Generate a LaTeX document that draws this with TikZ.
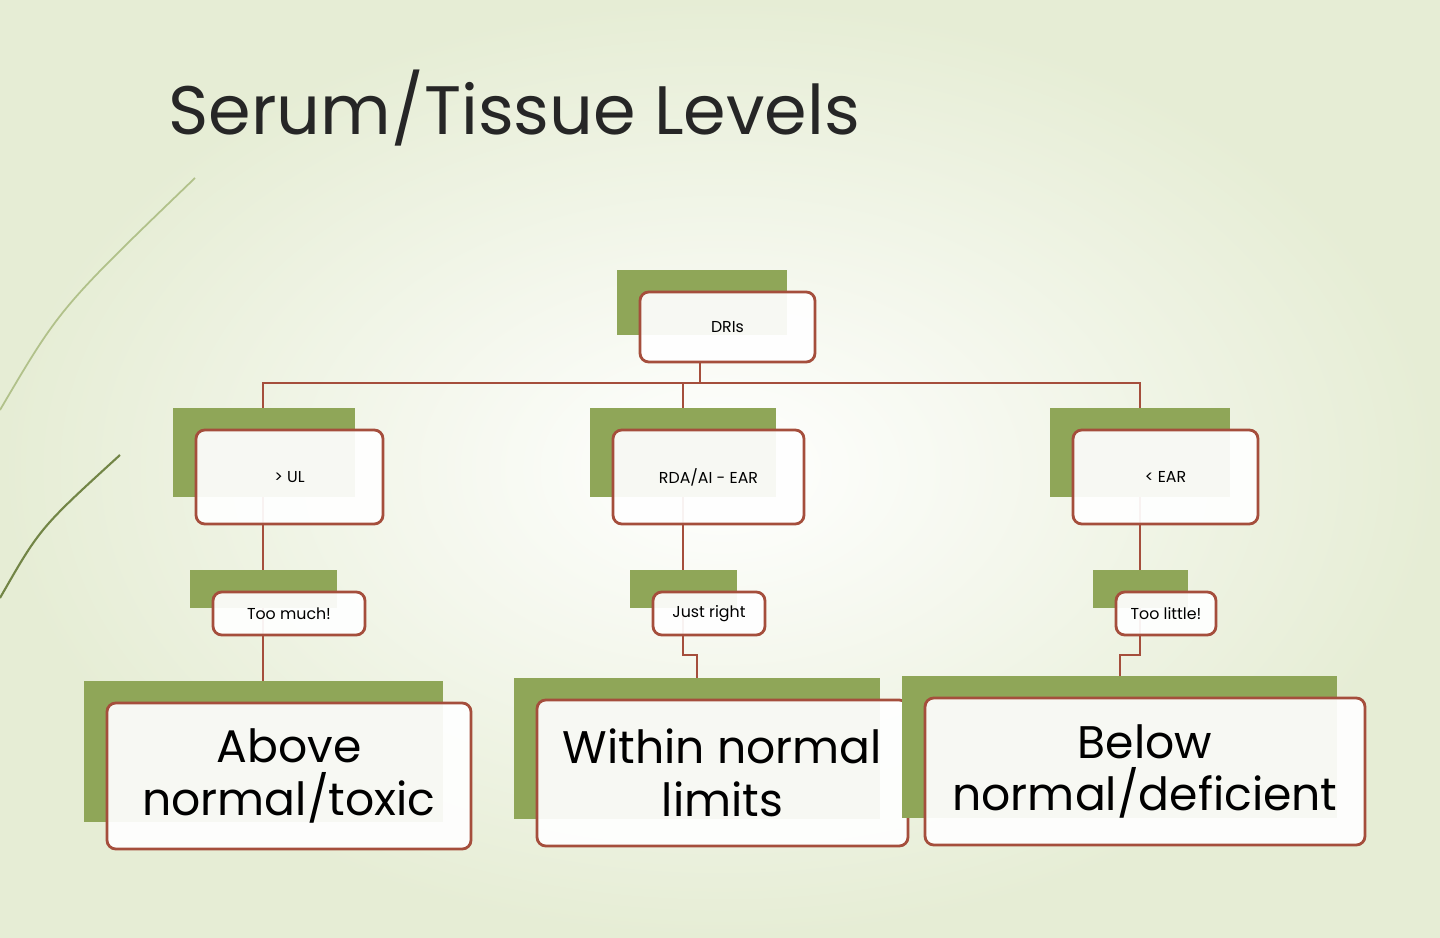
\documentclass[tikz,border=0pt]{standalone}
\usepackage{fontspec}
\setmainfont{Poppins}
\usepackage{tikz}
\definecolor{leaf}{RGB}{143,166,88}
\definecolor{rust}{RGB}{165,78,60}
\definecolor{bgout}{RGB}{230,237,213}
\tikzset{
  conn/.style={rust,line width=0.8pt},
  card/.style={draw=rust,line width=0.8pt,fill=white,fill opacity=0.93,text opacity=1,rounded corners=2.5pt,inner sep=0pt,align=center},
}
% #1: name, #2: x1, #3: y1, #4: x2, #5: y2 (white card), #6: font size, #7: text
\newcommand{\mkcard}[7]{%
  \fill[leaf] (#2-0.23,#3+0.22) rectangle (#4-0.28,#5+0.27);
  \node[card,font=\fontsize{#6}{15}\selectfont,minimum width={(#4-#2)*1cm},minimum height={(#3-#5)*1cm}]
    (#1) at ({(#2+#4)/2},{(#3+#5)/2}) {#7};
}
\begin{document}
\begin{tikzpicture}
  \useasboundingbox (0,0) rectangle (14.4,9.38);
  % background
  \shade[inner color=white,outer color=bgout] (0,0) rectangle (14.4,9.38);
  \draw[leaf!70,line width=0.5pt] (0,5.28) .. controls (0.6,6.3) .. (1.95,7.6);
  \draw[leaf!80!black,line width=0.6pt] (0,3.40) .. controls (0.4,4.1) .. (1.2,4.83);

  % title
  \node[anchor=base west,font=\fontsize{19.5}{23}\selectfont,text=black!85,inner sep=0pt] (title) at (1.68,8.03) {Serum/Tissue Levels};

  % junction points
  \coordinate (bus) at (7.00,5.55);
  \coordinate (jl) at (2.63,0);
  \coordinate (jc) at (6.83,0);
  \coordinate (jr) at (11.40,0);
  \coordinate (kc) at (6.97,0);
  \coordinate (kr) at (11.20,0);

  % connectors (under the cards)
  \draw[conn] (7.00,5.76) -- (bus);
  \draw[conn] (jl |- 0,4.08) |- (bus) -| (jr |- 0,4.08);
  \draw[conn] (jc |- bus) -- (jc |- 0,4.08);
  \draw[conn] (jl |- 0,4.14) -- (jl |- 0,1.58);
  \draw[conn] (jc |- 0,4.14) -- (jc |- 0,3.03) -- (6.83,2.83) -| (kc |- 0,1.60);
  \draw[conn] (jr |- 0,4.14) -- (jr |- 0,3.03) -- (11.40,2.83) -| (kr |- 0,1.62);

  % cards
  \mkcard{dri}{6.40}{6.46}{8.15}{5.76}{4.5}{DRIs}
  \mkcard{ul}{1.96}{5.08}{3.83}{4.14}{4.5}{> UL}
  \mkcard{rda}{6.13}{5.08}{8.04}{4.14}{4.5}{RDA/AI - EAR}
  \mkcard{lt}{10.73}{5.08}{12.58}{4.14}{4.5}{< EAR}
  \mkcard{much}{2.13}{3.46}{3.65}{3.03}{4.5}{Too much!}
  \mkcard{right}{6.53}{3.46}{7.65}{3.03}{4.5}{Just right}
  \mkcard{little}{11.16}{3.46}{12.16}{3.03}{4.5}{Too little!}
  \mkcard{above}{1.07}{2.35}{4.71}{0.89}{13}{Above\\normal/toxic}
  \mkcard{within}{5.37}{2.38}{9.08}{0.92}{13}{Within normal\\limits}
  \mkcard{below}{9.25}{2.40}{13.65}{0.93}{13}{Below\\normal/deficient}
\end{tikzpicture}
\end{document}
